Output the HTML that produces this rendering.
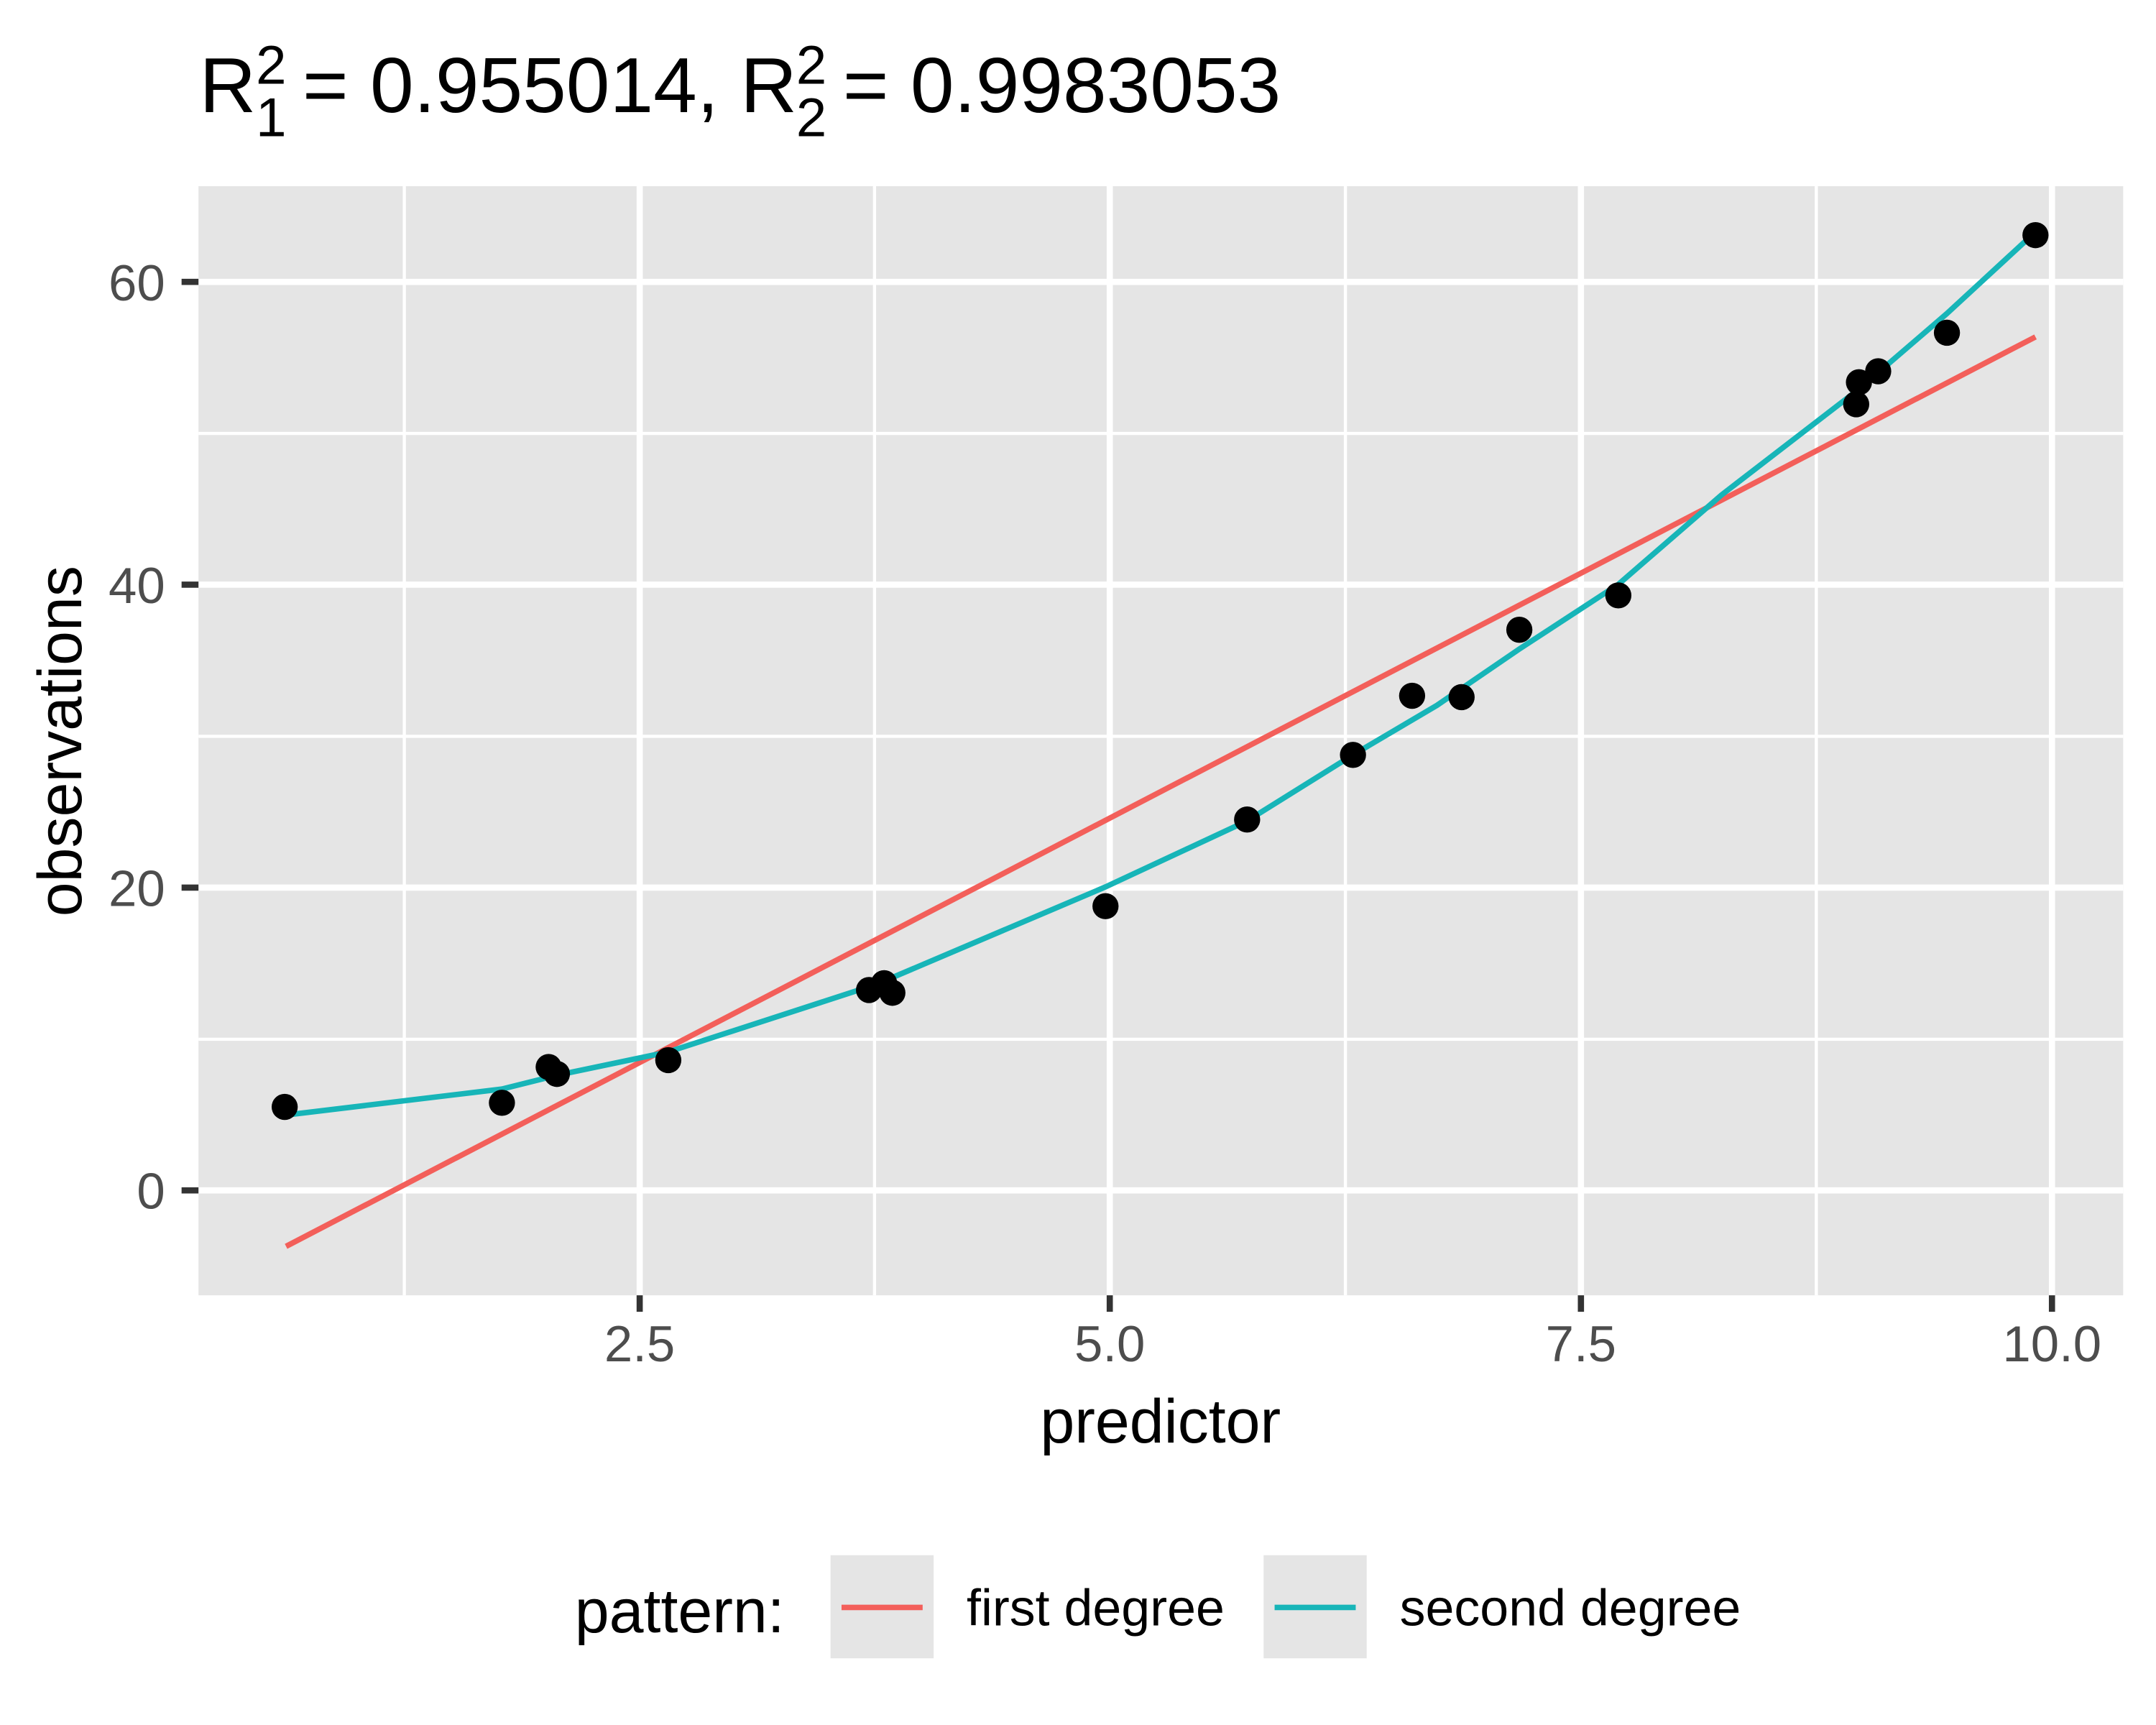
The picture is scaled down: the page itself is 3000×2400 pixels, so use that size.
<!DOCTYPE html>
<html><head><meta charset="utf-8"><style>
html,body{margin:0;padding:0;background:#fff;}
svg{display:block;}
text{font-family:"Liberation Sans",Arial,sans-serif;}
</style></head><body>
<svg width="3000" height="2400" viewBox="0 0 1568 1254.5" xmlns="http://www.w3.org/2000/svg">
<rect x="0" y="0" width="1568" height="1254.5" fill="#fff"/>
<!-- title -->
<text y="81.6" font-size="57" fill="#000"><tspan x="145">R</tspan></text>
<text x="186" y="61" font-size="40" fill="#000">2</text>
<text x="186" y="99" font-size="40" fill="#000">1</text>
<text x="220" y="81.6" font-size="57" fill="#000">= 0.955014, R</text>
<text x="579" y="61" font-size="40" fill="#000">2</text>
<text x="579" y="99" font-size="40" fill="#000">2</text>
<text x="613" y="81.6" font-size="57" fill="#000">= 0.9983053</text>
<!-- panel -->
<rect x="144.3" y="135.4" width="1399.9" height="806.6" fill="#E5E5E5"/>
<g stroke="#fff" stroke-width="2.3">
<line x1="144.3" x2="1544.2" y1="755.8" y2="755.8"/>
<line x1="144.3" x2="1544.2" y1="535.5" y2="535.5"/>
<line x1="144.3" x2="1544.2" y1="315.2" y2="315.2"/>
<line y1="135.4" y2="942" x1="294" x2="294"/>
<line y1="135.4" y2="942" x1="636" x2="636"/>
<line y1="135.4" y2="942" x1="978.5" x2="978.5"/>
<line y1="135.4" y2="942" x1="1321" x2="1321"/>
</g>
<g stroke="#fff" stroke-width="4.5">
<line x1="144.3" x2="1544.2" y1="865.7" y2="865.7"/>
<line x1="144.3" x2="1544.2" y1="645.5" y2="645.5"/>
<line x1="144.3" x2="1544.2" y1="425.2" y2="425.2"/>
<line x1="144.3" x2="1544.2" y1="205" y2="205"/>
<line y1="135.4" y2="942" x1="465.2" x2="465.2"/>
<line y1="135.4" y2="942" x1="807.1" x2="807.1"/>
<line y1="135.4" y2="942" x1="1149.8" x2="1149.8"/>
<line y1="135.4" y2="942" x1="1492.4" x2="1492.4"/>
</g>
<!-- ticks -->
<g stroke="#333" stroke-width="4.5">
<line x1="132" x2="144.3" y1="865.7" y2="865.7"/>
<line x1="132" x2="144.3" y1="645.5" y2="645.5"/>
<line x1="132" x2="144.3" y1="425.2" y2="425.2"/>
<line x1="132" x2="144.3" y1="205" y2="205"/>
<line y1="942" y2="954" x1="465.2" x2="465.2"/>
<line y1="942" y2="954" x1="807.1" x2="807.1"/>
<line y1="942" y2="954" x1="1149.8" x2="1149.8"/>
<line y1="942" y2="954" x1="1492.4" x2="1492.4"/>
</g>
<g font-size="37" fill="#4D4D4D" text-anchor="end">
<text x="120" y="879">0</text>
<text x="120" y="659">20</text>
<text x="120" y="438.5">40</text>
<text x="120" y="218.5">60</text>
</g>
<g font-size="37" fill="#4D4D4D" text-anchor="middle">
<text x="465.2" y="990">2.5</text>
<text x="807.1" y="990">5.0</text>
<text x="1149.8" y="990">7.5</text>
<text x="1492.4" y="990">10.0</text>
</g>
<text x="844" y="1049" font-size="45" text-anchor="middle" fill="#000">predictor</text>
<text transform="translate(59,539) rotate(-90)" font-size="45" text-anchor="middle" fill="#000">observations</text>
<!-- lines -->
<line x1="208" y1="906.4" x2="1480.4" y2="245" stroke="#F35F5A" stroke-width="4"/>
<polyline fill="none" stroke="#17B5B8" stroke-width="4" stroke-linejoin="round" points="
207,811.0 365,792 405,782 486,765 637,716 804,645 907,597 984,549 1045,513 1105,472 1177,425 1252,360 1352,283 1416,228 1480,169"/>
<!-- points -->
<g fill="#000">
<circle cx="207" cy="805" r="9.5"/><circle cx="365" cy="802" r="9.5"/>
<circle cx="399" cy="776" r="9.5"/><circle cx="405" cy="781" r="9.5"/>
<circle cx="486" cy="771" r="9.5"/><circle cx="632" cy="720" r="9.5"/>
<circle cx="643" cy="715" r="9.5"/><circle cx="649" cy="722" r="9.5"/>
<circle cx="804" cy="659" r="9.5"/><circle cx="907" cy="596" r="9.5"/>
<circle cx="984" cy="549" r="9.5"/><circle cx="1027" cy="506" r="9.5"/>
<circle cx="1063" cy="507" r="9.5"/><circle cx="1105" cy="458" r="9.5"/>
<circle cx="1177" cy="433" r="9.5"/><circle cx="1350" cy="294" r="9.5"/>
<circle cx="1352" cy="278" r="9.5"/><circle cx="1366" cy="270" r="9.5"/>
<circle cx="1416" cy="242" r="9.5"/><circle cx="1480.4" cy="171" r="9.5"/>
</g>
<!-- legend -->
<text x="418" y="1187" font-size="45" fill="#000">pattern:</text>
<rect x="604" y="1131" width="75" height="75" fill="#E5E5E5"/>
<line x1="612" x2="671" y1="1169" y2="1169" stroke="#F35F5A" stroke-width="4"/>
<text x="703" y="1182" font-size="37.5" fill="#000">first degree</text>
<rect x="919" y="1131" width="75" height="75" fill="#E5E5E5"/>
<line x1="927" x2="986" y1="1169" y2="1169" stroke="#17B5B8" stroke-width="4"/>
<text x="1018" y="1182" font-size="37.5" fill="#000">second degree</text>
</svg>
</body></html>
